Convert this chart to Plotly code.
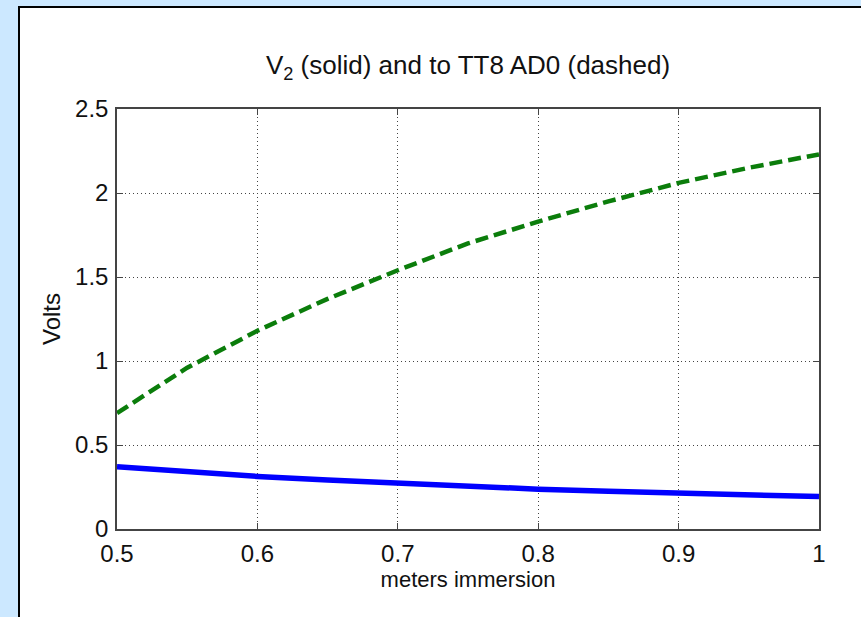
import plotly.graph_objects as go

depth = [0.5, 0.55, 0.6, 0.65, 0.7, 0.75, 0.8, 0.85, 0.9, 0.95, 1.0]
v2_solid = [0.37, 0.338, 0.313, 0.292, 0.272, 0.254, 0.237, 0.224, 0.214, 0.203, 0.193]
tt8_dashed = [0.69, 0.96, 1.18, 1.37, 1.54, 1.70, 1.83, 1.95, 2.06, 2.15, 2.23]

x_ticks = [0.5, 0.6, 0.7, 0.8, 0.9, 1.0]
x_ticklabels = ["0.5", "0.6", "0.7", "0.8", "0.9", "1"]
y_ticks = [0, 0.5, 1, 1.5, 2, 2.5]
y_ticklabels = ["0", "0.5", "1", "1.5", "2", "2.5"]

W, H = 861, 617
L, R, T, B = 117, 42, 109, 88
pw, ph = W - L - R, H - T - B

fig = go.Figure()
fig.add_trace(go.Scatter(x=depth, y=v2_solid, mode="lines",
                         line=dict(color="#0000ff", width=5.5), showlegend=False))
fig.add_trace(go.Scatter(x=depth, y=tt8_dashed, mode="lines",
                         line=dict(color="#0b7d0b", width=4.5, dash="13px,6px"),
                         showlegend=False))

font = "Liberation Sans, Arial, sans-serif"
axis_common = dict(showline=True, mirror="ticks", linecolor="#444444", linewidth=1.5,
                   ticks="inside", ticklen=6, tickcolor="#444444",
                   showgrid=True, gridcolor="#444444", griddash="1px,3px", gridwidth=1,
                   zeroline=False, tickfont=dict(family=font, size=24, color="#111111"))

fig.update_layout(
    width=W, height=H,
    margin=dict(l=L, r=R, t=T, b=B),
    paper_bgcolor="#cce8ff",
    plot_bgcolor="white",
    title=dict(text="V<sub>2</sub> (solid) and to TT8 AD0 (dashed)",
               x=(L + pw / 2) / W, xanchor="center",
               y=(H - 65) / H, yanchor="middle", yref="container",
               font=dict(family=font, size=26, color="#111111")),
    xaxis=dict(range=[0.5, 1.0], tickvals=x_ticks, ticktext=x_ticklabels,
               ticklabelstandoff=2,
               title=dict(text="meters immersion", font=dict(family=font, size=22, color="#111111"),
                          standoff=2),
               **axis_common),
    yaxis=dict(range=[0, 2.5], tickvals=y_ticks, ticktext=y_ticklabels,
               ticklabelstandoff=2,
               title=dict(text="Volts", font=dict(family=font, size=24, color="#111111"),
                          standoff=8),
               **axis_common),
    shapes=[dict(type="rect", xref="paper", yref="paper", layer="below",
                 x0=(19 - L) / pw, x1=(W + 20 - L) / pw,
                 y0=-(B + 20) / ph, y1=(H - 7 - B) / ph,
                 fillcolor="white", line=dict(color="black", width=2))],
)

fig.write_html("out.html",
               config={"displayModeBar": False},
               post_script="document.body.style.margin='0';"
                           "document.body.style.background='#cce8ff';"
                           "document.body.style.overflow='hidden';")
